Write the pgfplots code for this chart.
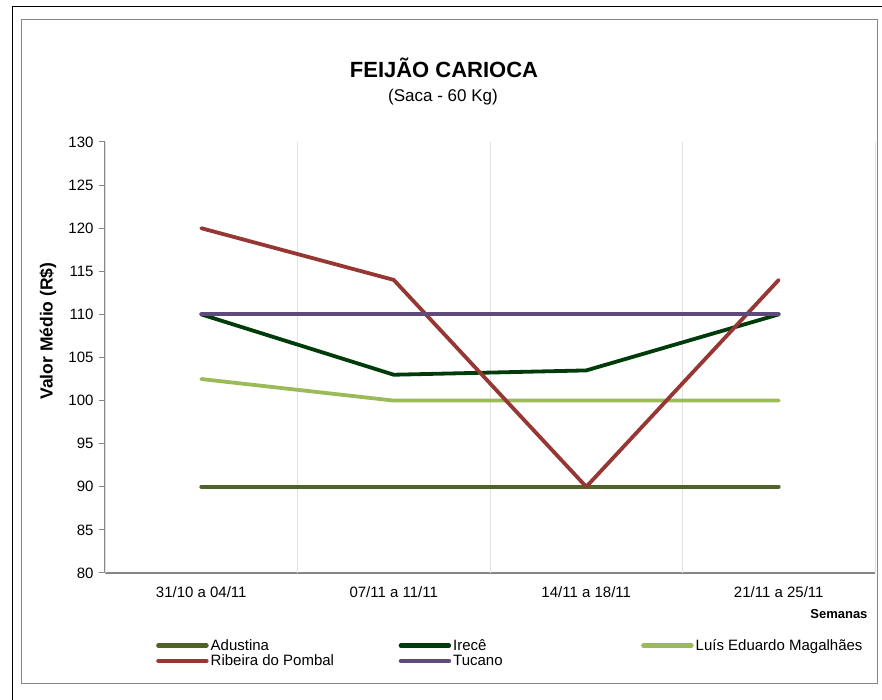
\documentclass[border=0pt]{standalone}
\usepackage{pgfplots}
\pgfplotsset{compat=1.18}
\usepackage{fontspec}
\setmainfont{Liberation Sans}
\definecolor{cAdu}{RGB}{79,98,40}
\definecolor{cIre}{RGB}{0,60,10}
\definecolor{cLui}{RGB}{155,187,89}
\definecolor{cRib}{RGB}{150,55,52}
\definecolor{cTuc}{RGB}{96,74,123}
\definecolor{axgray}{RGB}{134,134,134}
\definecolor{grgray}{RGB}{225,225,225}
\begin{document}
\begin{tikzpicture}[x=1pt,y=1pt]
\path[use as bounding box] (0,0) rectangle (882,700);
\draw[black,line width=1pt] (12,0) -- (12,693) -- (882,693);
\draw[axgray,line width=1pt] (21,16) rectangle (877,680);
\node[font=\fontsize{22}{24}\selectfont\bfseries] at (444,632) {FEIJÃO CARIOCA};
\node[font=\fontsize{17}{19}\selectfont] at (443,603) {(Saca - 60 Kg)};
\node[font=\fontsize{17.5}{19}\selectfont\bfseries, rotate=90] at (48,369) {Valor Médio (R\$)};
\begin{axis}[
  at={(105pt,127pt)}, anchor=south west,
  scale only axis, width=770pt, height=431pt,
  xmin=-0.5, xmax=3.5, ymin=80, ymax=130,
  ytick={80,85,...,130},
  xtick={0,1,2,3},
  xticklabels={31/10 a 04/11,07/11 a 11/11,14/11 a 18/11,21/11 a 25/11},
  extra x ticks={-0.5,0.5,1.5,2.5,3.5},
  extra x tick labels={},
  extra x tick style={grid=major, major grid style={grgray,line width=0.8pt}, major tick length=6pt, tick style={axgray,line width=1pt}},
  major x tick style={draw=none},
  axis lines*=left,
  axis line style={axgray,line width=1.5pt},
  y axis line style={-}, x axis line style={-},
  tick style={axgray,line width=1pt},
  ytick style={axgray},
  tick align=outside, major tick length=6pt,
  ticklabel style={font=\fontsize{15}{17}\selectfont, text=black},
  xticklabel style={yshift=-4pt},
  yticklabel style={xshift=-2pt},
  /pgf/number format/assume math mode=true,
  every axis plot/.style={line width=3.8pt, line join=round, line cap=round},
  legend columns=3,
  legend style={at={(48pt,-62pt)}, anchor=north west, draw=none, fill=none,
    font=\fontsize{15}{16}\selectfont, row sep=-1pt,
    /tikz/every even column/.style={column sep=0pt}},
  legend cell align=left,
  legend image code/.code={\draw[#1,line width=4.5pt,line cap=round] (0pt,0pt) -- (48pt,0pt);},
  clip=false,
]
\addplot[cAdu] coordinates {(0,90) (1,90) (2,90) (3,90)};
\addlegendentry{\makebox[186pt][l]{Adustina}}
\addplot[cIre] coordinates {(0,110) (1,103) (2,103.5) (3,110)};
\addlegendentry{\makebox[186pt][l]{Irecê}}
\addplot[cLui] coordinates {(0,102.5) (1,100) (2,100) (3,100)};
\addlegendentry{Luís Eduardo Magalhães}
\addplot[cRib] coordinates {(0,120) (1,114) (2,90) (3,114)};
\addlegendentry{\makebox[186pt][l]{Ribeira do Pombal}}
\addplot[cTuc] coordinates {(0,110) (1,110) (2,110) (3,110)};
\addlegendentry{\makebox[186pt][l]{Tucano}}
\end{axis}
\node[font=\fontsize{13}{15}\selectfont\bfseries, anchor=east] at (871,86) {Semanas};
\end{tikzpicture}
\end{document}
